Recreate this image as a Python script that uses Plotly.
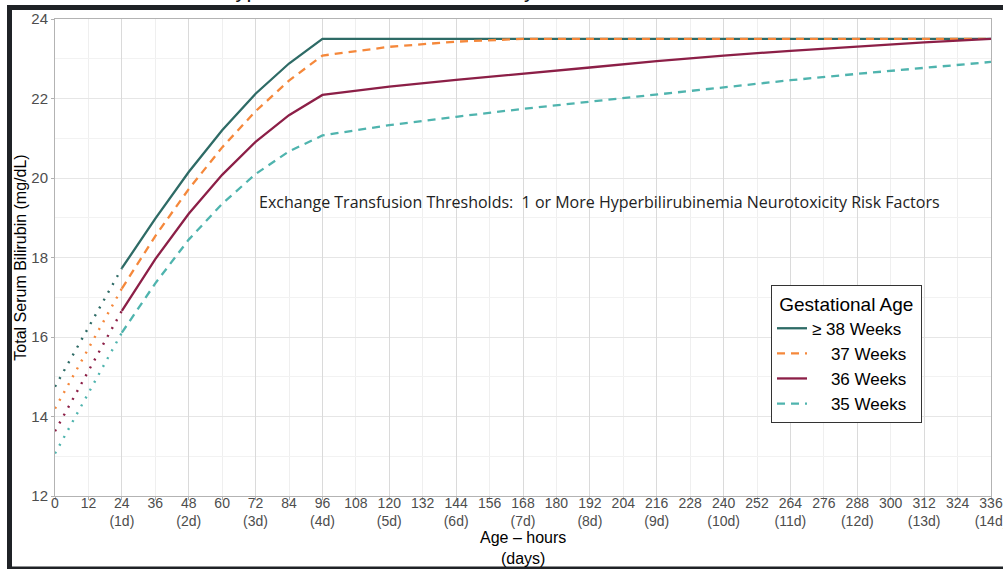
import plotly.graph_objects as go

# ---------------- data ----------------
hours_early = [0, 24]
hours_main = [24, 36, 48, 60, 72, 84, 96, 120, 144, 168, 192, 216, 240, 264, 288, 312, 336]

series_names = ["\u2265 38 Weeks\u00a0\u00a0", "\u00a0\u00a0\u00a0 37 Weeks\u00a0\u00a0",
                "\u00a0\u00a0\u00a0 36 Weeks\u00a0\u00a0", "\u00a0\u00a0\u00a0 35 Weeks\u00a0\u00a0"]

early_38 = [14.75, 17.73]
early_37 = [14.20, 17.22]
early_36 = [13.63, 16.66]
early_35 = [13.07, 16.11]

main_38 = [17.73, 18.98, 20.15, 21.20, 22.12, 22.88, 23.50, 23.50, 23.50, 23.50, 23.50, 23.50, 23.50, 23.50, 23.50, 23.50, 23.50]
main_37 = [17.22, 18.54, 19.72, 20.77, 21.68, 22.45, 23.08, 23.30, 23.43, 23.50, 23.50, 23.50, 23.50, 23.50, 23.50, 23.50, 23.50]
main_36 = [16.66, 17.96, 19.10, 20.08, 20.91, 21.58, 22.09, 22.30, 22.47, 22.62, 22.78, 22.94, 23.08, 23.20, 23.31, 23.41, 23.50]
main_35 = [16.11, 17.35, 18.45, 19.35, 20.10, 20.67, 21.07, 21.33, 21.54, 21.74, 21.92, 22.10, 22.27, 22.46, 22.62, 22.77, 22.92]

x_tick_vals = list(range(0, 337, 12))
x_tick_text = [f"{h}<br>({h // 24}d)" if h % 24 == 0 and h > 0 else f"{h}" for h in x_tick_vals]
y_tick_vals = [12, 14, 16, 18, 20, 22, 24]

colors = ["#2e6b66", "#f5883b", "#8c1f47", "#4fb4ae"]
dashes = ["solid", "8px,6px", "solid", "8px,6px"]

# ---------------- layout geometry ----------------
W, H = 1003, 569
L, R, T, B = 55, 12, 19, 73
PW, PH = W - L - R, H - T - B


def px(xp):
    return (xp - L) / PW


def py(yp):
    return (H - B - yp) / PH


fig = go.Figure()

early = [early_38, early_37, early_36, early_35]
main = [main_38, main_37, main_36, main_35]

for i in range(4):
    fig.add_trace(go.Scatter(
        x=hours_early, y=early[i], mode="lines",
        line=dict(color=colors[i], width=2.4, dash="2px,7px"),
        showlegend=False, hoverinfo="skip"))

for i in range(4):
    fig.add_trace(go.Scatter(
        x=hours_main, y=main[i], mode="lines", name=series_names[i],
        line=dict(color=colors[i], width=2.3, dash=dashes[i])))

# dummy trace for the overlay axis that carries the darker 24 h grid
fig.add_trace(go.Scatter(x=[], y=[], xaxis="x2", showlegend=False, hoverinfo="skip"))

tick_font = dict(family="Liberation Sans, Arial, sans-serif", size=14, color="#4d4d4d")

fig.update_layout(
    width=W, height=H,
    margin=dict(l=L, r=R, t=T, b=B, pad=0, autoexpand=False),
    paper_bgcolor="white", plot_bgcolor="white",
    font=dict(family="Liberation Sans, Arial, sans-serif", color="black"),
    xaxis=dict(
        range=[0, 336], tickmode="array", tickvals=x_tick_vals, ticktext=x_tick_text,
        tickfont=tick_font, ticks="outside", ticklen=3, tickcolor="#b0b0b0",
        ticklabelstandoff=-9, ticklabeloverflow="allow",
        showgrid=False, zeroline=False, automargin=False,
        minor=dict(tickvals=list(range(12, 337, 24)), showgrid=True, gridcolor="#efefef", ticks=""),
        showline=True, mirror=True, linecolor="#b3b3b3", linewidth=1,
    ),
    xaxis2=dict(
        range=[0, 336], overlaying="x", side="bottom", tickmode="array",
        tickvals=list(range(0, 337, 24)), showticklabels=False, ticks="",
        showgrid=True, gridcolor="#dadada", gridwidth=1, zeroline=False, showline=False,
        automargin=False,
    ),
    yaxis=dict(
        range=[12, 24], tickmode="array", tickvals=y_tick_vals,
        tickfont=dict(family="Liberation Sans, Arial, sans-serif", size=15, color="#4d4d4d"),
        ticks="outside", ticklen=3, tickcolor="#b0b0b0", ticklabeloverflow="allow",
        showgrid=True, gridcolor="#e6e6e6", zeroline=False, automargin=False,
        minor=dict(dtick=1, showgrid=True, gridcolor="#f2f2f2", ticks=""),
        showline=True, mirror=True, linecolor="#b3b3b3", linewidth=1,
        title=dict(text="Total Serum Bilirubin (mg/dL)", font=dict(size=16, color="black"), standoff=0),
    ),
    legend=dict(
        x=px(771), y=py(285), xanchor="left", yanchor="top",
        bgcolor="white", bordercolor="#333333", borderwidth=1,
        title=dict(text="\u00a0Gestational Age\u00a0", font=dict(size=19, color="black")),
        font=dict(size=17, color="black"),
        tracegroupgap=0, itemwidth=30,
    ),
    showlegend=True,
)

# x-axis title
fig.add_annotation(
    x=0.5, y=py(527), xref="paper", yref="paper", xanchor="center", yanchor="top",
    showarrow=False, text="Age \u2013 hours<br>(days)",
    font=dict(family="Liberation Sans, Arial, sans-serif", size=16, color="black"),
)

fig.add_annotation(
    x=195.6, y=19.40, xref="x", yref="y", showarrow=False,
    text="Exchange Transfusion Thresholds:\u00a0 1 or More Hyperbilirubinemia Neurotoxicity Risk Factors",
    font=dict(family="Open Sans, sans-serif", size=16, color="#222222"),
)

# partially cut title at the very top of the screenshot
fig.add_annotation(
    x=px(665), y=py(4), xref="paper", yref="paper", xanchor="right", yanchor="bottom",
    showarrow=False,
    text="with 1 or More Hyperbilirubinemia Neurotoxicity Risk Factors",
    font=dict(family="Liberation Sans, Arial, sans-serif", size=22, color="#111111"),
)

# dark screenshot frame
frame = "#1f2226"
fig.add_shape(type="rect", xref="paper", yref="paper", x0=px(7), x1=px(12), y0=py(569), y1=py(5),
              fillcolor=frame, line_width=0, layer="above")
fig.add_shape(type="rect", xref="paper", yref="paper", x0=px(7), x1=px(1003), y0=py(10), y1=py(5),
              fillcolor=frame, line_width=0, layer="above")
fig.add_shape(type="rect", xref="paper", yref="paper", x0=px(7), x1=px(1003), y0=py(569), y1=py(566.5),
              fillcolor=frame, line_width=0, layer="above")

fig.write_html("out.html", config={"displayModeBar": False},
               post_script="document.body.style.margin='0';")
